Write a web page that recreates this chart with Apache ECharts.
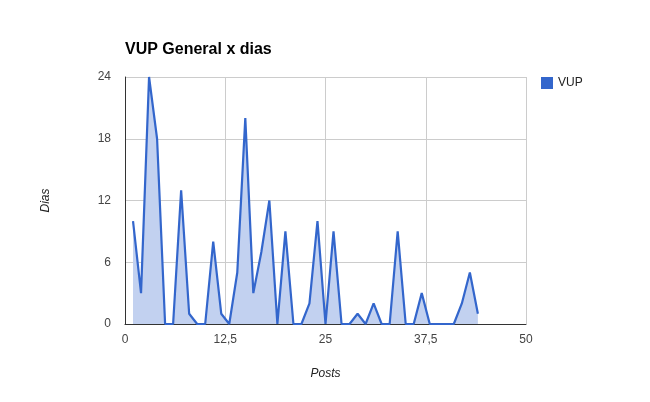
<!DOCTYPE html>
<html>
<head>
<meta charset="utf-8">
<script src="https://cdn.jsdelivr.net/npm/echarts@6/dist/echarts.min.js"></script>
<style>html,body{margin:0;padding:0;background:#fff}#c{width:650px;height:402px}</style>
</head>
<body>
<div id="c"></div>
<script>
var posts = [1,2,3,4,5,6,7,8,9,10,11,12,13,14,15,16,17,18,19,20,21,22,23,24,25,26,27,28,29,30,31,32,33,34,35,36,37,38,39,40,41,42,43,44];
var vup =   [10,3,24,18,0,0,13,1,0,0,8,1,0,5,20,3,7,12,0,9,0,0,2,10,0,9,0,0,1,0,2,0,0,9,0,0,3,0,0,0,0,2,5,1];
var seriesName = 'VUP';
var titleText = 'VUP General x dias';

var data = posts.map(function(p,i){return [p, vup[i]];});
var chart = echarts.init(document.getElementById('c'));
var FONT = '"Liberation Sans", Arial, sans-serif';
chart.setOption({
  animation: false,
  title: {text: titleText, left: 120, top: 37, textStyle: {fontFamily: FONT, fontSize: 16, fontWeight: 'bold', color: '#000'}},
  legend: {left: 536, top: 72, icon: 'rect', itemWidth: 12, itemHeight: 12, itemGap: 5,
    textStyle: {fontFamily: FONT, fontSize: 12, color: '#222'}, data: [seriesName]},
  grid: {left: 125, right: 124, top: 77, bottom: 78, containLabel: false},
  xAxis: {type: 'value', min: 0, max: 50, interval: 12.5,
    name: 'Posts', nameLocation: 'middle', nameGap: 44,
    nameTextStyle: {fontFamily: FONT, fontSize: 12, fontStyle: 'italic', color: '#222'},
    axisLine: {show: true, onZero: false, lineStyle: {color: '#333', width: 1}},
    axisTick: {show: false},
    axisLabel: {fontFamily: FONT, fontSize: 12, color: '#444', margin: 10,
      formatter: function(v){return String(v).replace('.', ',');}},
    splitLine: {show: true, lineStyle: {color: '#ccc', width: 1}}},
  yAxis: {type: 'value', min: 0, max: 24, interval: 6,
    name: 'Dias', nameLocation: 'middle', nameGap: 73, nameRotate: 90,
    nameTextStyle: {fontFamily: FONT, fontSize: 12, fontStyle: 'italic', color: '#222'},
    axisLine: {show: true, lineStyle: {color: '#333', width: 1}},
    axisTick: {show: false},
    axisLabel: {fontFamily: FONT, fontSize: 12, color: '#444', margin: 14},
    splitLine: {show: true, lineStyle: {color: '#ccc', width: 1}}},
  series: [{name: seriesName, type: 'line', data: data, showSymbol: false, symbol: 'none',
    color: '#3366cc',
    lineStyle: {color: '#3366cc', width: 2.2},
    areaStyle: {color: '#c2d1f0', opacity: 1}}]
});
</script>
</body>
</html>
